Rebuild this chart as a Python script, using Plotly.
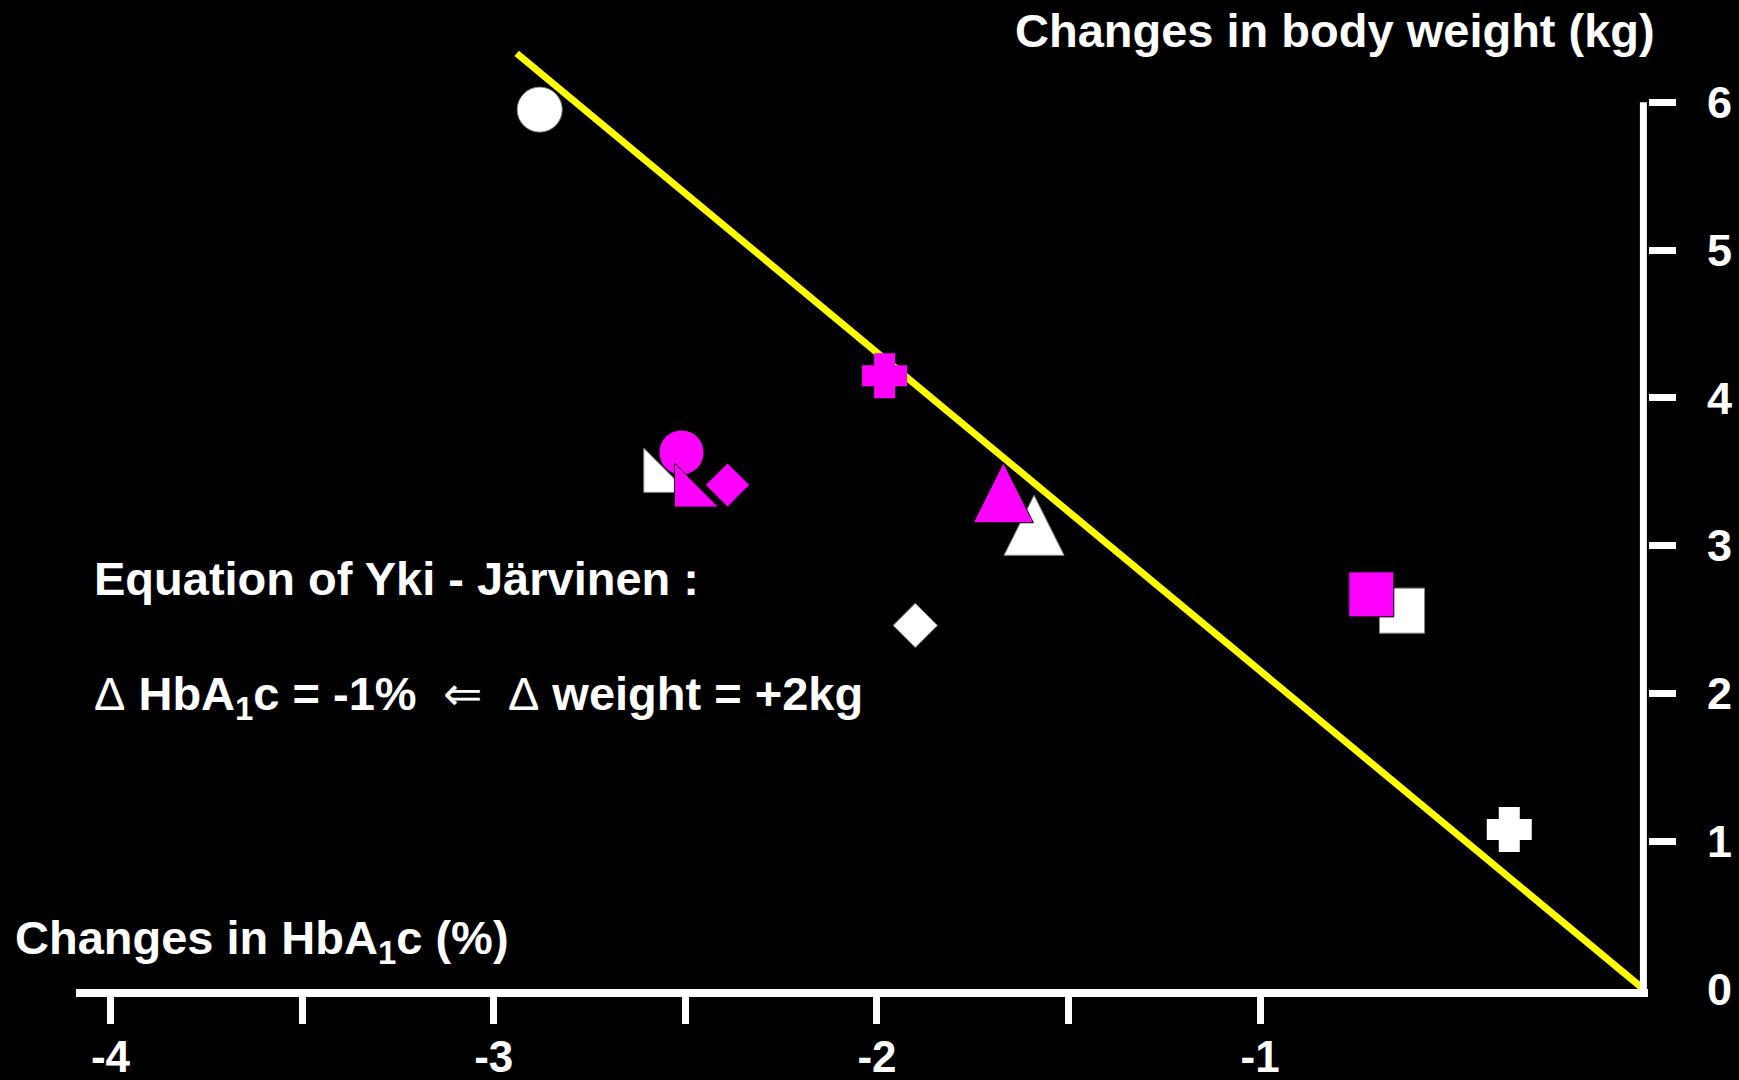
import plotly.graph_objects as go

# Change in HbA1c (%) vs change in body weight (kg), one marker per treatment arm
white_x = [-2.88, -2.57, -1.59, -1.90, -0.63, -0.35]
white_y = [5.95, 3.46, 3.07, 2.46, 2.56, 1.08]
white_symbols = ["circle", "triangle-sw", "triangle-up", "diamond", "square", "cross"]

magenta_x = [-2.51, -2.49, -2.39, -1.98, -1.67, -0.71]
magenta_y = [3.63, 3.36, 3.41, 4.15, 3.29, 2.67]
magenta_symbols = ["circle", "triangle-sw", "diamond", "cross", "triangle-up", "square"]

# Yki-Järvinen relation: -1 % HbA1c  <->  +2 kg body weight
fit_x = [-2.94, 0.0]
fit_y = [6.33, 0.0]

# Axes
x_range = [-4.09, 0.012]
y_range = [0, 6.36]
x_tickvals = [-4, -3, -2, -1]
x_ticktext = ["-4", "-3", "-2", "-1"]
x_half_ticks = [-3.5, -2.5, -1.5]
y_tickvals = [1, 2, 3, 4, 5, 6]
y_ticktext = ["1", "2", "3", "4", "5", "6"]
y_spine = [0, 6]

WHITE = "#FFFFFF"
MAGENTA = "#FF00FF"
YELLOW = "#FFFF00"

SIZES = {"circle": 45, "square": 45, "diamond": 34, "cross": 30, "triangle-sw": 49}
TRI_W, TRI_H = 60, 60

fig = go.Figure()

# vertical axis spine on the right (x = 0)
fig.add_trace(go.Scatter(x=[0, 0], y=y_spine, mode="lines",
                         line=dict(color=WHITE, width=7), hoverinfo="skip",
                         yaxis="y2"))

# regression line
fig.add_trace(go.Scatter(x=fit_x, y=fit_y, mode="lines",
                         line=dict(color=YELLOW, width=7), hoverinfo="skip"))

shapes = []


def add_group(xs, ys, symbols, color, edge):
    px, py, sym, size, lw, lc = [], [], [], [], [], []
    for x, y, s in zip(xs, ys, symbols):
        if s == "triangle-up":
            # upright triangle drawn as a pixel-sized path anchored at the data point
            shapes.append(dict(
                type="path", xref="x", yref="y",
                xsizemode="pixel", ysizemode="pixel",
                xanchor=x, yanchor=y,
                path=f"M {-TRI_W/2},{-TRI_H/3} L {TRI_W/2},{-TRI_H/3} L 0,{2*TRI_H/3} Z",
                fillcolor=color, line=dict(color=edge, width=1), layer="above"))
            continue
        px.append(x)
        py.append(y)
        sym.append(s)
        size.append(SIZES[s])
        if s == "cross":
            lw.append(9)
            lc.append(color)
        else:
            lw.append(1)
            lc.append(edge)
    fig.add_trace(go.Scatter(
        x=px, y=py, mode="markers", cliponaxis=False, hoverinfo="skip",
        marker=dict(symbol=sym, size=size, color=color, opacity=1,
                    line=dict(width=lw, color=lc))))


add_group(white_x, white_y, white_symbols, WHITE, "#888888")
add_group(magenta_x, magenta_y, magenta_symbols, MAGENTA, "#000000")

FONT = "Liberation Sans, Arial, Helvetica, sans-serif"
nb = "\u00a0"
thin = "<span style='font-weight:normal'>{}</span>"

annotations = [
    dict(text="Changes in body weight (kg)", xref="paper", yref="paper",
         x=1.0057, y=1.0194, xanchor="right", yanchor="middle",
         showarrow=False, font=dict(size=47)),
    dict(text="Changes in HbA<sub>1</sub>c (%)", xref="paper", yref="paper",
         x=-0.040, y=0.051, xanchor="left", yanchor="middle",
         showarrow=False, font=dict(size=47)),
    dict(text="Equation of Yki - Järvinen :", xref="paper", yref="paper",
         x=0.0102, y=0.437, xanchor="left", yanchor="middle",
         showarrow=False, font=dict(size=47)),
    dict(text=thin.format("Δ") + " HbA<sub>1</sub>c = -1%" + nb + nb + thin.format("⇐") + nb + nb
         + thin.format("Δ") + " weight = +2kg",
         xref="paper", yref="paper",
         x=0.0102, y=0.311, xanchor="left", yanchor="middle",
         showarrow=False, font=dict(size=47)),
]

fig.update_layout(
    width=1739, height=1080,
    paper_bgcolor="black", plot_bgcolor="black",
    margin=dict(l=76, r=91, t=49, b=91),
    showlegend=False,
    font=dict(family=FONT, color=WHITE, size=45, weight="bold"),
    xaxis=dict(range=x_range, showgrid=False, zeroline=False, automargin=False,
               showline=True, linecolor=WHITE, linewidth=8,
               ticks="outside", tickvals=x_tickvals, ticktext=x_ticktext,
               ticklen=27, tickwidth=7, tickcolor=WHITE, ticklabelstandoff=-5,
               tickfont=dict(size=44, color=WHITE),
               minor=dict(tickvals=x_half_ticks, ticks="outside", ticklen=27,
                          tickwidth=7, tickcolor=WHITE, showgrid=False)),
    yaxis=dict(range=y_range, side="right", showgrid=False, zeroline=False,
               automargin=False, showline=False, ticks="outside",
               tickvals=y_tickvals, ticktext=y_ticktext, ticklen=27,
               tickwidth=7, tickcolor=WHITE, ticklabelstandoff=22,
               tickfont=dict(size=45, color=WHITE)),
    yaxis2=dict(range=y_range, side="right", overlaying="y", showgrid=False,
                zeroline=False, showline=False, automargin=False,
                ticks="outside", tickvals=[0], ticktext=["0"], ticklen=27,
                tickwidth=7, tickcolor="rgba(0,0,0,0)", ticklabelstandoff=22,
                tickfont=dict(size=45, color=WHITE)),
    shapes=shapes,
    annotations=annotations,
)

fig.write_html("out.html")
